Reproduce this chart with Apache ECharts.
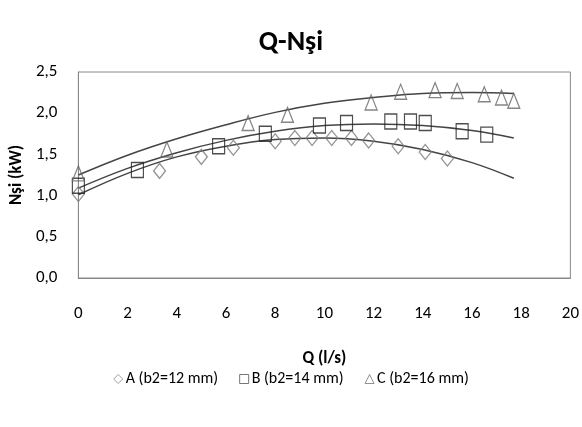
<!DOCTYPE html>
<html>
<head>
<meta charset="utf-8">
<title>Q-Nşi</title>
<script src="https://cdn.jsdelivr.net/npm/echarts@6/dist/echarts.min.js"></script>
<style>
    html, body {margin: 0; padding: 0; background: #fff;}
    #chart {width: 582px; height: 427px;}
</style>
</head>
<body>
<div id="chart"></div>
<script>
// measured points, Q (l/s) and Nşi (kW)
var qA = [0, 3.3, 5.0, 6.3, 8.0, 8.8, 9.5, 10.3, 11.1, 11.8, 13.0, 14.1, 15.0];
var nA = [1.02, 1.30, 1.47, 1.58, 1.66, 1.70, 1.70, 1.70, 1.70, 1.67, 1.60, 1.53, 1.45];
var qB = [0, 2.4, 5.7, 7.6, 9.8, 10.9, 12.7, 13.5, 14.1, 15.6, 16.6];
var nB = [1.12, 1.31, 1.60, 1.75, 1.85, 1.88, 1.90, 1.90, 1.88, 1.78, 1.74];
var qC = [0, 3.6, 6.9, 8.5, 11.9, 13.1, 14.5, 15.4, 16.5, 17.2, 17.7];
var nC = [1.27, 1.56, 1.88, 1.98, 2.13, 2.26, 2.28, 2.27, 2.23, 2.19, 2.15];

// trend lines
var qTrend = [0, 2, 4, 6, 8, 10, 12, 14, 16, 17.7];
var trendA = [1.01, 1.27, 1.47, 1.60, 1.68, 1.70, 1.66, 1.56, 1.40, 1.21];
var trendB = [1.09, 1.33, 1.52, 1.67, 1.78, 1.85, 1.87, 1.85, 1.79, 1.70];
var trendC = [1.25, 1.49, 1.69, 1.86, 2.01, 2.12, 2.19, 2.24, 2.25, 2.24];

var seriesNames = ['A (b2=12 mm)', 'B (b2=14 mm)', 'C (b2=16 mm)'];
var yTicks = ['0,0', '0,5', '1,0', '1,5', '2,0', '2,5'];

var font = 'Carlito, Lato, sans-serif';

var pairs = function (xs, ys) {
    var out = [];
    for (var i = 0; i < xs.length; i++) {
        out.push([xs[i], ys[i]]);
    }
    return out;
};

var markerSeries = function (name, xs, ys, symbol, color) {
    return {
        name: name,
        type: 'scatter',
        data: pairs(xs, ys),
        symbol: symbol,
        symbolSize: [12, 15],
        itemStyle: {color: 'rgba(0,0,0,0)', borderColor: color, borderWidth: 1.3},
        z: 3
    };
};

var trendSeries = function (ys) {
    return {
        type: 'line',
        data: pairs(qTrend, ys),
        smooth: 0.4,
        showSymbol: false,
        silent: true,
        lineStyle: {color: '#444', width: 1.5},
        z: 2
    };
};

var chart = echarts.init(document.getElementById('chart'));
chart.setOption({
    animation: false,
    backgroundColor: '#fff',
    title: {
        text: 'Q-Nşi',
        left: 'center',
        top: 24,
        textStyle: {fontFamily: font, fontSize: 28, fontWeight: 'bold', color: '#000'}
    },
    legend: {
        bottom: 35,
        left: 'center',
        itemGap: 21,
        itemWidth: 9,
        itemHeight: 9,
        data: [
            {name: seriesNames[0], icon: 'diamond', itemStyle: {borderColor: '#888', borderWidth: 1}},
            {name: seriesNames[1], icon: 'rect', itemStyle: {borderColor: '#555', borderWidth: 1}},
            {name: seriesNames[2], icon: 'triangle', itemStyle: {borderColor: '#777', borderWidth: 1}}
        ],
        textStyle: {fontFamily: font, fontSize: 16, color: '#000', padding: [0, 0, 0, -2]}
    },
    grid: {
        left: 77, right: 9, top: 72, bottom: 149,
        show: true, borderColor: '#888', borderWidth: 1
    },
    xAxis: {
        type: 'value',
        min: 0, max: 20, interval: 2,
        name: 'Q (l/s)',
        nameLocation: 'middle',
        nameGap: 72,
        nameTextStyle: {fontFamily: font, fontSize: 17, fontWeight: 'bold', color: '#000'},
        axisLine: {show: true, lineStyle: {color: '#888'}},
        axisTick: {show: false},
        splitLine: {show: false},
        axisLabel: {margin: 27, fontFamily: font, fontSize: 17, color: '#000'}
    },
    yAxis: {
        type: 'value',
        min: 0, max: 2.5, interval: 0.5,
        name: 'Nşi (kW)',
        nameLocation: 'middle',
        nameGap: 47,
        nameTextStyle: {fontFamily: font, fontSize: 17, fontWeight: 'bold', color: '#000'},
        axisLine: {show: true, lineStyle: {color: '#888'}},
        axisTick: {show: false},
        splitLine: {show: false},
        axisLabel: {
            margin: 21, fontFamily: font, fontSize: 17, color: '#000',
            formatter: function (v) {
                return yTicks[Math.round(v / 0.5)];
            }
        }
    },
    series: [
        trendSeries(trendA),
        trendSeries(trendB),
        trendSeries(trendC),
        markerSeries(seriesNames[0], qA, nA, 'diamond', '#7a7a7a'),
        markerSeries(seriesNames[1], qB, nB, 'rect', '#222'),
        markerSeries(seriesNames[2], qC, nC, 'triangle', '#666')
    ]
});
</script>
</body>
</html>
